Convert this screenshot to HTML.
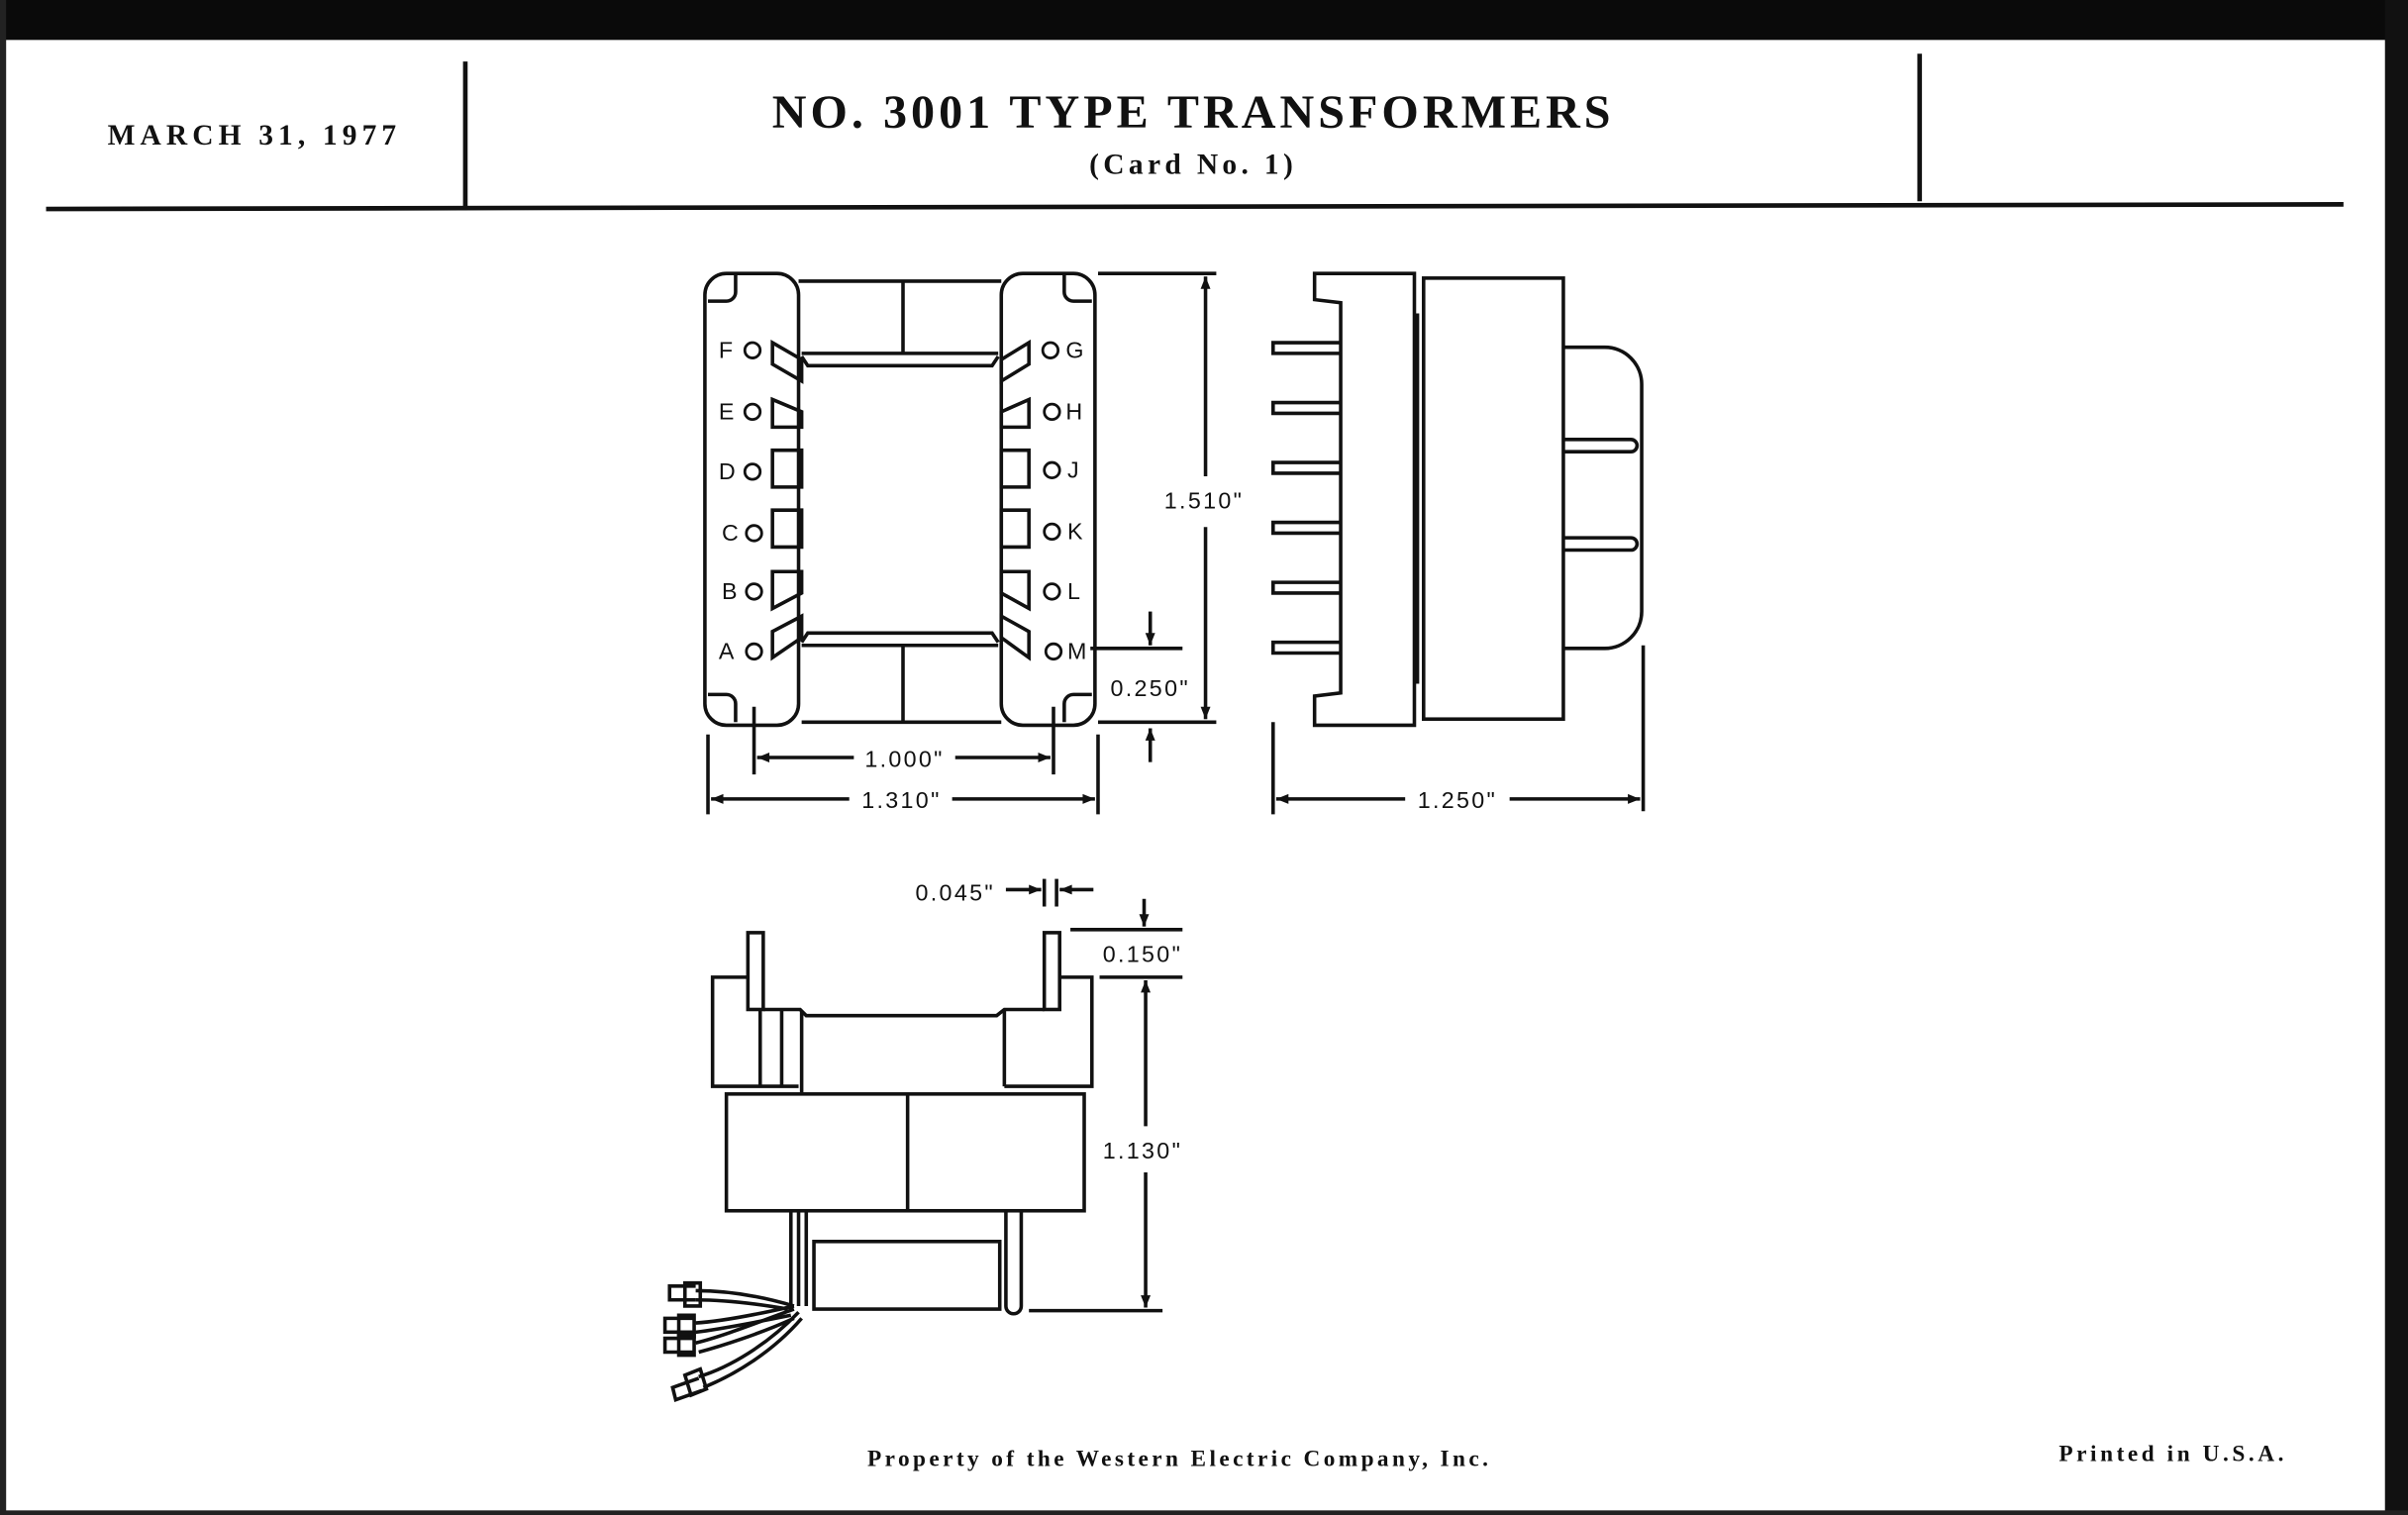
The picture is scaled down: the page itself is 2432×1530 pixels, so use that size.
<!DOCTYPE html>
<html><head><meta charset="utf-8"><style>
html,body{margin:0;padding:0;background:#fff;}
svg{display:block}
text{font-family:"Liberation Sans",sans-serif;fill:#111;}
.s{font-family:"Liberation Serif",serif;font-weight:bold;}
</style></head><body>
<svg width="2432" height="1530" viewBox="0 0 1568 986" preserveAspectRatio="none" xmlns="http://www.w3.org/2000/svg">
<defs>
<marker id="a" viewBox="0 0 10 10" refX="10" refY="5" markerWidth="9" markerHeight="8" orient="auto-start-reverse" markerUnits="userSpaceOnUse"><path d="M0,1 L10,5 L0,9z" fill="#111"/></marker>
</defs>
<rect x="0" y="0" width="1568" height="986" fill="#fff"/>
<rect x="0" y="0" width="1568" height="26" fill="#0a0a0a"/>
<rect x="0" y="0" width="4" height="986" fill="#222"/>
<rect x="1553" y="0" width="15" height="986" fill="#111"/>
<rect x="0" y="983" width="1568" height="3" fill="#222"/>
<g stroke="#111" fill="none" stroke-width="2">
<line x1="303" y1="40" x2="303" y2="135" stroke-width="3"/>
<line x1="1250" y1="35" x2="1250" y2="131" stroke-width="3"/>
<line x1="30" y1="136" x2="1526" y2="133" stroke-width="3"/>
</g>
<text class="s" x="70" y="94" font-size="19" letter-spacing="3.3">MARCH 31, 1977</text>
<text class="s" x="777" y="83" font-size="31" text-anchor="middle" letter-spacing="2.6">NO. 3001 TYPE TRANSFORMERS</text>
<text class="s" x="777" y="113" font-size="19" text-anchor="middle" font-weight="normal" letter-spacing="2.8">(Card No. 1)</text>
<text class="s" x="768" y="954" font-size="15" text-anchor="middle" letter-spacing="2.2">Property of the Western Electric Company, Inc.</text>
<text class="s" x="1415" y="951" font-size="15" text-anchor="middle" letter-spacing="2.3">Printed in U.S.A.</text>

<!-- FRONT VIEW -->
<g stroke="#111" fill="none" stroke-width="2.3">
<rect x="459" y="178" width="61" height="294" rx="14"/>
<rect x="652" y="178" width="61" height="294" rx="14"/>
<path d="M461,196 h12 a6,6 0 0 0 6,-6 v-12"/>
<path d="M711,196 h-12 a6,6 0 0 1 -6,-6 v-12"/>
<path d="M461,452 h12 a6,6 0 0 1 6,6 v12"/>
<path d="M711,452 h-12 a6,6 0 0 0 -6,6 v12"/>
<line x1="520" y1="183" x2="652" y2="183"/>
<line x1="588" y1="183" x2="588" y2="230"/>
<path d="M522,230 H650 M522,232 L526,238 H646 L650,232"/>
<path d="M522,420 H650 M522,418 L526,412 H646 L650,418"/>
<line x1="522" y1="470" x2="652" y2="470"/>
<line x1="588" y1="420" x2="588" y2="470"/>
<path d="M503,223 L522,234 V248 L503,237 Z"/>
<path d="M503,260 L522,268 V278 H503 Z"/>
<path d="M503,293 H522 V317 H503 Z"/>
<path d="M503,332 H522 V356 H503 Z"/>
<path d="M503,372 H522 V386 L503,396 Z"/>
<path d="M503,411 L522,401 V415 L503,428 Z"/>
<path d="M670,223 L652,234 V248 L670,237 Z"/>
<path d="M670,260 L652,268 V278 H670 Z"/>
<path d="M670,293 H652 V317 H670 Z"/>
<path d="M670,332 H652 V356 H670 Z"/>
<path d="M670,372 H652 V386 L670,396 Z"/>
<path d="M670,411 L652,401 V415 L670,428 Z"/>
<g stroke-width="1.8">
<circle cx="490" cy="228" r="5"/><circle cx="490" cy="268" r="5"/><circle cx="490" cy="307" r="5"/><circle cx="491" cy="347" r="5"/><circle cx="491" cy="385" r="5"/><circle cx="491" cy="424" r="5"/>
<circle cx="684" cy="228" r="5"/><circle cx="685" cy="268" r="5"/><circle cx="685" cy="306" r="5"/><circle cx="685" cy="346" r="5"/><circle cx="685" cy="385" r="5"/><circle cx="686" cy="424" r="5"/>
</g>
<line x1="715" y1="178" x2="792" y2="178"/>
<line x1="715" y1="470" x2="792" y2="470"/>
<line x1="785" y1="180" x2="785" y2="310" marker-start="url(#a)"/>
<line x1="785" y1="343" x2="785" y2="468" marker-end="url(#a)"/>
<line x1="710" y1="422" x2="770" y2="422"/>
<line x1="749" y1="398" x2="749" y2="420" marker-end="url(#a)"/>
<line x1="749" y1="496" x2="749" y2="474" marker-end="url(#a)"/>
<line x1="491" y1="460" x2="491" y2="504"/>
<line x1="686" y1="460" x2="686" y2="504"/>
<line x1="493" y1="493" x2="556" y2="493" marker-start="url(#a)"/>
<line x1="622" y1="493" x2="684" y2="493" marker-end="url(#a)"/>
<line x1="461" y1="478" x2="461" y2="530"/>
<line x1="715" y1="478" x2="715" y2="530"/>
<line x1="463" y1="520" x2="553" y2="520" marker-start="url(#a)"/>
<line x1="620" y1="520" x2="713" y2="520" marker-end="url(#a)"/>
</g>
<g font-size="15" letter-spacing="1.5">
<text x="468" y="233">F</text><text x="468" y="273">E</text><text x="468" y="312">D</text><text x="470" y="352">C</text><text x="470" y="390">B</text><text x="468" y="429">A</text>
<text x="694" y="233">G</text><text x="694" y="273">H</text><text x="695" y="311">J</text><text x="695" y="351">K</text><text x="695" y="390">L</text><text x="695" y="429">M</text>
<text x="784" y="331" text-anchor="middle">1.510"</text>
<text x="749" y="453" text-anchor="middle">0.250"</text>
<text x="589" y="499" text-anchor="middle">1.000"</text>
<text x="587" y="526" text-anchor="middle">1.310"</text>
<text x="949" y="526" text-anchor="middle">1.250"</text>
<text x="622" y="586" text-anchor="middle">0.045"</text>
<text x="744" y="626" text-anchor="middle">0.150"</text>
<text x="744" y="754" text-anchor="middle">1.130"</text>
</g>

<!-- SIDE VIEW -->
<g stroke="#111" fill="none" stroke-width="2.3">
<path d="M856,178 H921 V472 H856 V453 L873,451 V197 L856,195 Z"/>
<line x1="923" y1="204" x2="923" y2="445"/>
<rect x="927" y="181" width="91" height="287"/>
<path d="M1018,226 H1045 A24,24 0 0 1 1069,250 V398 A24,24 0 0 1 1045,422 H1018"/>
<path d="M1018,286 H1062 A4,4 0 0 1 1062,294 H1018"/>
<path d="M1018,350 H1062 A4,4 0 0 1 1062,358 H1018"/>
<path d="M873,223 H829 V230 H873"/>
<path d="M873,262 H829 V269 H873"/>
<path d="M873,301 H829 V308 H873"/>
<path d="M873,340 H829 V347 H873"/>
<path d="M873,379 H829 V386 H873"/>
<path d="M873,418 H829 V425 H873"/>
<line x1="829" y1="470" x2="829" y2="530"/>
<line x1="1070" y1="420" x2="1070" y2="528"/>
<line x1="831" y1="520" x2="915" y2="520" marker-start="url(#a)"/>
<line x1="983" y1="520" x2="1068" y2="520" marker-end="url(#a)"/>
</g>

<!-- BOTTOM VIEW -->
<g stroke="#111" fill="none" stroke-width="2.3">
<rect x="487" y="607" width="10" height="50"/>
<rect x="680" y="607" width="10" height="50"/>
<path d="M487,636 H464 V707 H520"/>
<path d="M690,636 H711 V707 H654"/>
<line x1="495" y1="657" x2="495" y2="707"/><line x1="509" y1="657" x2="509" y2="707"/>
<path d="M497,657 H521 L525,661 H649 L654,657 H680"/>
<line x1="522" y1="658" x2="522" y2="711"/>
<line x1="654" y1="657" x2="654" y2="707"/>
<rect x="473" y="712" width="233" height="76"/>
<line x1="591" y1="712" x2="591" y2="788"/>
<path d="M515,788 V852 M520,788 V850 M525,788 V850"/>
<path d="M655,788 V850 A5,5 0 0 0 665,850 V788"/>
<rect x="530" y="808" width="121" height="44"/>
<path d="M517,850 C490,842 470,840 453,840 M513,852 C490,848 470,846 453,846"/>
<path d="M517,850 C495,855 470,860 453,861 M515,856 C495,860 470,865 453,867"/>
<path d="M517,852 C495,860 470,870 453,874 M517,858 C495,868 470,876 455,880"/>
<path d="M520,854 C500,875 475,890 455,896 M522,858 C503,880 478,895 458,903"/>
<path d="M453,837 H436 V846 H453 M446,835 H456 V850 H446 Z"/>
<path d="M453,858 H433 V867 H453 M442,856 H452 V870 H442 Z"/>
<path d="M453,871 H433 V880 H453 M442,868 H452 V882 H442 Z"/>
<path d="M455,897 L438,903 L440,911 L457,905 M446,895 L456,891 L460,904 L450,908 Z"/>
<line x1="680" y1="572" x2="680" y2="590"/>
<line x1="688" y1="572" x2="688" y2="590"/>
<line x1="655" y1="579" x2="678" y2="579" marker-end="url(#a)"/>
<line x1="712" y1="579" x2="690" y2="579" marker-end="url(#a)"/>
<line x1="697" y1="605" x2="770" y2="605"/>
<line x1="745" y1="585" x2="745" y2="603" marker-end="url(#a)"/>
<line x1="716" y1="636" x2="770" y2="636"/>
<line x1="746" y1="638" x2="746" y2="733" marker-start="url(#a)"/>
<line x1="746" y1="763" x2="746" y2="851" marker-end="url(#a)"/>
<line x1="670" y1="853" x2="757" y2="853"/>
</g>
</svg>
</body></html>
